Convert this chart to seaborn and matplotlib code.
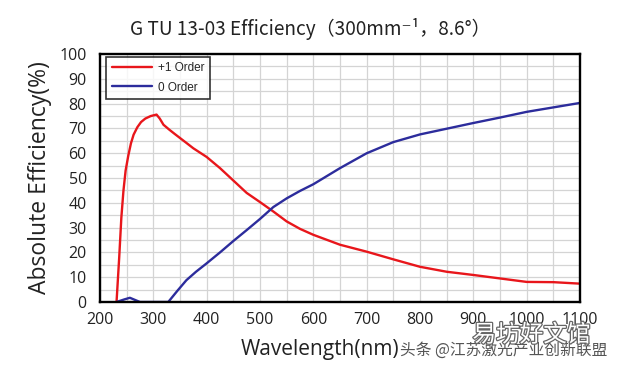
import pandas as pd
import numpy as np
import matplotlib
matplotlib.use("Agg")
import matplotlib.pyplot as plt
import matplotlib.patheffects as pe
from matplotlib.ticker import MultipleLocator
import seaborn as sns

# +1 order efficiency
wl_p1 = [231, 236, 240, 244, 248, 253, 258, 263, 270, 277, 285, 295, 306, 312, 319, 330, 340,
         360, 375, 400, 425, 450, 475, 500, 525, 550, 575, 600, 650, 700, 750, 800, 850, 900,
         950, 1000, 1050, 1100]
eff_p1 = [0, 18, 34, 45, 53, 59, 64, 67.5, 70.5, 72.6, 74, 75, 75.6, 74, 71.5, 69.5, 67.8,
          64.5, 62, 58.5, 54, 49, 44, 40.3, 36.5, 32.5, 29.5, 27.1, 23.1, 20.3, 17.2, 14.2, 12.2,
          10.9, 9.5, 8.1, 8, 7.4]

# 0 order efficiency
wl_0 = [231, 245, 256, 266, 275, 300, 328, 345, 362, 380, 400, 425, 450, 475, 500, 525, 550,
        575, 600, 650, 700, 750, 800, 850, 900, 950, 1000, 1050, 1100]
eff_0 = [0, 1.0, 1.7, 0.8, 0, 0, 0, 4.5, 8.8, 12.2, 15.6, 20, 24.6, 29, 33.5, 38.3, 41.8,
         44.8, 47.5, 54, 60, 64.5, 67.6, 69.9, 72.2, 74.4, 76.7, 78.5, 80.3]

labels = ["+1 Order", "0 Order"]
colors = ["#e8161b", "#2c2c9c"]

df = pd.concat([
    pd.DataFrame({"Wavelength": wl_p1, "Efficiency": eff_p1, "Series": labels[0]}),
    pd.DataFrame({"Wavelength": wl_0, "Efficiency": eff_0, "Series": labels[1]}),
])

sns.set_style("white")
plt.rcParams["font.family"] = ["Open Sans", "DejaVu Sans"]
cjk = ["Noto Sans CJK SC", "DejaVu Sans"]

fig = plt.figure(figsize=(6.2, 3.7), dpi=100)
ax = fig.add_axes([0.1613, 0.1838, 0.7742, 0.670])

sns.lineplot(data=df, x="Wavelength", y="Efficiency", hue="Series", palette=colors,
             sort=False, estimator=None, linewidth=1.7, ax=ax)

ax.set_xlim(200, 1100)
ax.set_ylim(0, 100)
ax.xaxis.set_major_locator(MultipleLocator(100))
ax.xaxis.set_minor_locator(MultipleLocator(50))
ax.yaxis.set_major_locator(MultipleLocator(10))
ax.yaxis.set_minor_locator(MultipleLocator(5))
ax.grid(which="both", color="#d4d4d4", linewidth=0.9)
ax.set_axisbelow(True)

for s in ax.spines.values():
    s.set_color("black")
    s.set_linewidth(1.7)
ax.tick_params(which="both", direction="inout", length=7, width=1.4, color="black",
               labelsize=11.5, labelcolor="#222222")
ax.tick_params(axis="y", pad=6)
ax.tick_params(axis="x", pad=4)
ax.tick_params(which="minor", length=5)

ax.set_xlabel("")
ax.set_ylabel("Absolute Efficiency(%)", fontsize=16.5, labelpad=5, color="#222222")
fig.text(0.516, 0.055, "Wavelength(nm)", ha="center", va="center", fontsize=15,
         color="#222222")

fig.text(0.5, 0.922, "G TU 13-03 Efficiency（300mm⁻¹，8.6°）", ha="center", va="center",
         fontsize=13.7, color="#222222", family=cjk)

leg = ax.legend(loc="upper left", fontsize=8.5, frameon=True, fancybox=False,
                borderpad=0.5, handlelength=3.4, handletextpad=0.45, labelspacing=0.6,
                borderaxespad=0.0, bbox_to_anchor=(0.013, 0.99))
leg.get_frame().set_edgecolor("black")
leg.get_frame().set_linewidth(1.2)
for t in leg.get_texts():
    t.set_family(["Liberation Sans", "DejaVu Sans"])

# watermark text
fig.text(0.645, 0.052, "头条 @江苏激光产业创新联盟", fontsize=11.3, color="#555555",
         family=cjk, va="center")
fig.text(0.762, 0.094, "易坊好文馆", fontsize=17, color="white", family=cjk, va="center",
         path_effects=[pe.withStroke(linewidth=1.8, foreground="#666666")])

fig.savefig("out.png", dpi=100)
